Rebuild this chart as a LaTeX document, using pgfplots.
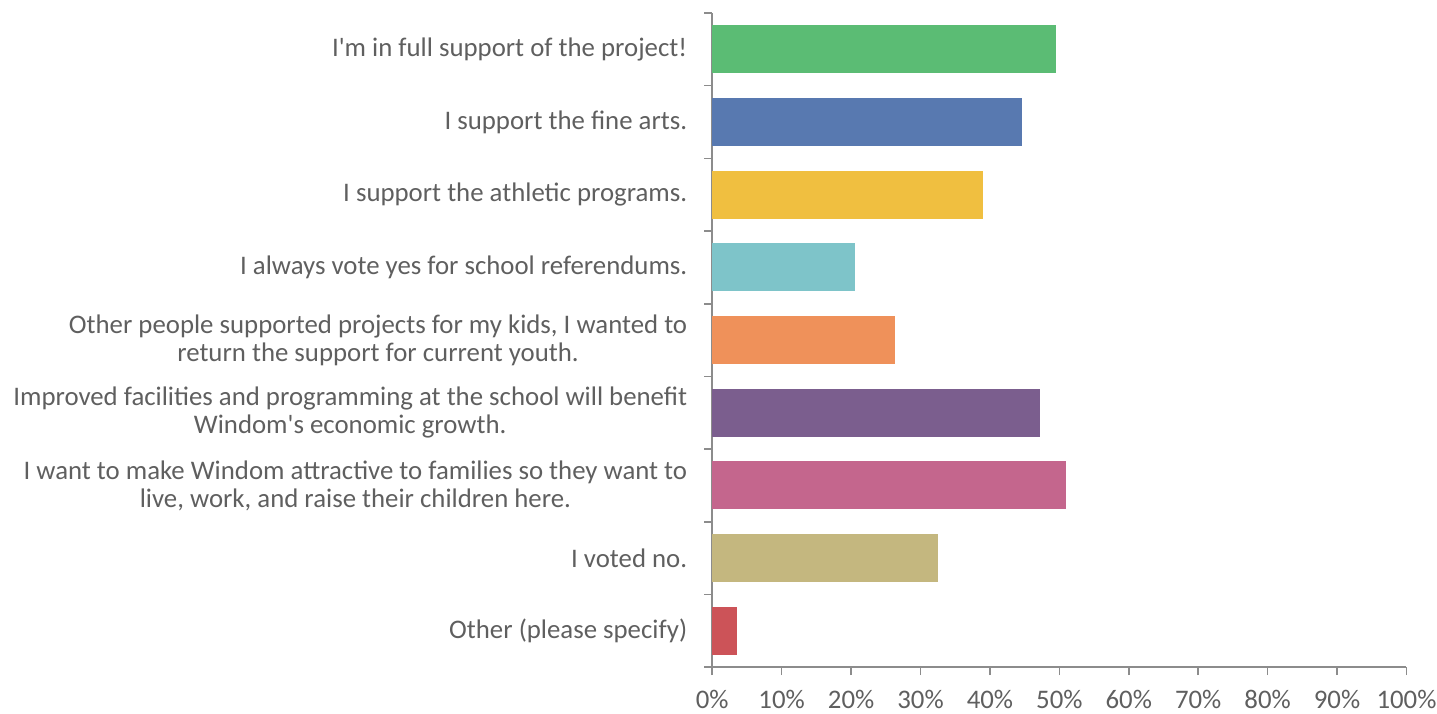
\documentclass[border=0pt]{standalone}
\usepackage{pgfplots}
\pgfplotsset{compat=1.18}
\usepackage{fontspec}
\setmainfont{Carlito}
\newfontfamily\labfont{Carlito}

\definecolor{cgreen}{HTML}{5BBC74}
\definecolor{cblue}{HTML}{5879B0}
\definecolor{cyellow}{HTML}{F0BF40}
\definecolor{cteal}{HTML}{7EC4C9}
\definecolor{corange}{HTML}{EF915A}
\definecolor{cpurple}{HTML}{7B5E8E}
\definecolor{cpink}{HTML}{C4668D}
\definecolor{ckhaki}{HTML}{C4B77F}
\definecolor{cred}{HTML}{CC5358}
\definecolor{txt}{HTML}{5F5F5F}
\definecolor{axgray}{HTML}{8C8C8C}

\begin{document}
\begin{tikzpicture}
\begin{axis}[
    name=ax,
    xbar,
    bar width=24pt,
    bar shift=0pt,
    scale only axis,
    width=347pt,
    height=327pt,
    xmin=0, xmax=100,
    ymin=-0.5, ymax=8.5,
    axis x line*=bottom,
    axis y line*=left,
    axis line style={axgray, line width=0.8pt},
    xtick={0,10,...,100},
    xticklabel={\pgfmathprintnumber{\tick}\%},
    /pgf/number format/assume math mode=true,
    ytick={0,...,8},
    yticklabels={
      {Other (please specify)},
      {I voted no.},
      {I want to make Windom attractive to families so they want to\\live, work, and raise their children here.},
      {Improved facilities and programming at the school will benefit\\Windom's economic growth.},
      {Other people supported projects for my kids, I wanted to\\return the support for current youth.},
      {I always vote yes for school referendums.},
      {I support the athletic programs.},
      {I support the fine arts.},
      {I'm in full support of the project!}
    },
    minor ytick={-0.5,0.5,...,8.5},
    tick align=outside,
    major tick length=4pt,
    minor tick length=4pt,
    every major y tick/.style={draw=none},
    every minor y tick/.style={draw=axgray, line width=0.8pt},
    xtick style={draw=axgray, line width=0.8pt},
    tick label style={font=\labfont\fontsize{13.4}{14}\selectfont, text=txt},
    yticklabel style={align=center, xshift=-5pt},
    xticklabel style={yshift=-4pt},
    every axis plot/.append style={draw=none},
]
\addplot[fill=cred]    coordinates {(3.5,0)};
\addplot[fill=ckhaki]  coordinates {(32.5,1)};
\addplot[fill=cpink]   coordinates {(51.0,2)};
\addplot[fill=cpurple] coordinates {(47.2,3)};
\addplot[fill=corange] coordinates {(26.3,4)};
\addplot[fill=cteal]   coordinates {(20.5,5)};
\addplot[fill=cyellow] coordinates {(39.0,6)};
\addplot[fill=cblue]   coordinates {(44.6,7)};
\addplot[fill=cgreen]  coordinates {(49.5,8)};
\end{axis}
\pgfresetboundingbox
\path ([xshift=-356pt,yshift=6.5pt]ax.north west) rectangle ([xshift=15.25pt,yshift=-23pt]ax.south east);
\end{tikzpicture}
\end{document}
